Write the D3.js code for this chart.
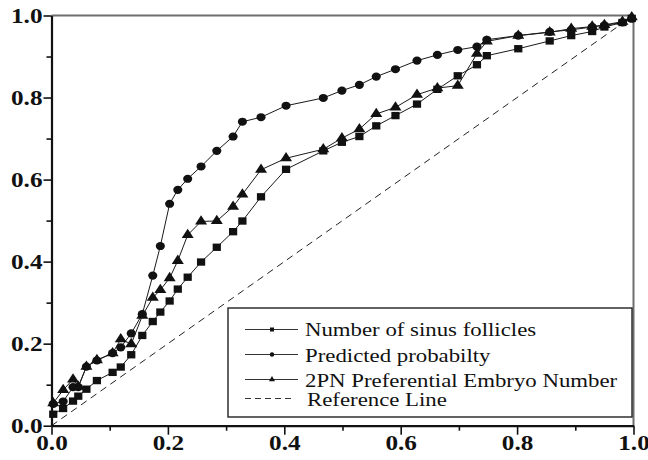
<!DOCTYPE html>
<html>
<head>
<meta charset="utf-8">
<script src="https://cdn.jsdelivr.net/npm/d3@7"></script>
<style>
  body { margin: 0; background: #fff; }
  #chart { width: 648px; height: 460px; }
  text { font-family: "Liberation Serif", "Times New Roman", Times, serif; }
</style>
</head>
<body>
<div id="chart"></div>
<script>
// values (false positive rate shared by all three curves)
const fpr = [0.003, 0.020, 0.037, 0.046, 0.060, 0.078, 0.105, 0.119, 0.137, 0.156,
  0.174, 0.187, 0.203, 0.217, 0.234, 0.257, 0.284, 0.312, 0.328, 0.360,
  0.403, 0.467, 0.499, 0.529, 0.558, 0.591, 0.628, 0.663, 0.698, 0.731,
  0.748, 0.802, 0.856, 0.893, 0.929, 0.950, 0.981, 0.997];

const sinusFollicles = [0.028, 0.042, 0.060, 0.072, 0.089, 0.110, 0.130, 0.143, 0.173, 0.220,
  0.254, 0.277, 0.304, 0.333, 0.362, 0.399, 0.435, 0.473, 0.499, 0.558,
  0.625, 0.670, 0.691, 0.705, 0.731, 0.756, 0.784, 0.820, 0.853, 0.880,
  0.902, 0.919, 0.938, 0.951, 0.961, 0.972, 0.983, 0.993];

const predictedProb = [0.053, 0.059, 0.094, 0.094, 0.144, 0.159, 0.177, 0.191, 0.225, 0.272,
  0.366, 0.438, 0.541, 0.575, 0.602, 0.632, 0.670, 0.705, 0.741, 0.752,
  0.780, 0.799, 0.817, 0.831, 0.851, 0.869, 0.890, 0.904, 0.916, 0.924,
  0.941, 0.951, 0.960, 0.965, 0.972, 0.976, 0.983, 0.992];

const embryo2PN = [0.055, 0.087, 0.113, 0.095, 0.144, 0.160, 0.177, 0.211, 0.199, 0.268,
  0.312, 0.331, 0.360, 0.402, 0.465, 0.498, 0.499, 0.534, 0.564, 0.624,
  0.652, 0.674, 0.701, 0.723, 0.760, 0.776, 0.807, 0.823, 0.829, 0.907,
  0.937, 0.951, 0.959, 0.968, 0.973, 0.977, 0.985, 0.996];

const seriesNames = ["Number of sinus follicles", "Predicted probabilty",
  "2PN Preferential Embryo Number", "Reference Line"];
const majorTicks = [0, 0.2, 0.4, 0.6, 0.8, 1.0];
const minorTicks = [0.1, 0.3, 0.5, 0.7, 0.9];
const refLine = [0, 1];

// the original picture is stretched sideways, so text is widened by this factor
const stretch = 1.2;

let margin = { top: 15.5, right: 14.5, bottom: 34.3, left: 51.5 };
let width = 648 - margin.left - margin.right;
let height = 460 - margin.top - margin.bottom;

var svg = d3
  .select("#chart")
  .append("svg")
  .attr("width", 648)
  .attr("height", 460)
  .append("g")
  .attr("transform", "translate(" + margin.left + "," + margin.top + ")");

let x = d3.scaleLinear().domain([0, 1]).range([0, width]);
let y = d3.scaleLinear().domain([0, 1]).range([height, 0]);

function widen(sel) {
  sel.each(function() {
    let len = this.getComputedTextLength();
    d3.select(this)
      .attr("textLength", len * stretch)
      .attr("lengthAdjust", "spacingAndGlyphs");
  });
}

// frame: gray top and right edges
svg.append("line")
  .attr("x1", 0).attr("x2", width).attr("y1", 0).attr("y2", 0)
  .attr("stroke", "#6e6e6e").attr("stroke-width", 2);
svg.append("line")
  .attr("x1", width).attr("x2", width).attr("y1", 0).attr("y2", height)
  .attr("stroke", "#6e6e6e").attr("stroke-width", 2);

function drawAxes() {
  // minor ticks first
  svg.append("g")
    .attr("transform", "translate(0," + height + ")")
    .call(d3.axisBottom(x).tickValues(minorTicks).tickSize(5).tickFormat(""))
    .call(g => g.select(".domain").remove());
  svg.append("g")
    .call(d3.axisLeft(y).tickValues(minorTicks).tickSize(5).tickFormat(""))
    .call(g => g.select(".domain").remove());

  let xAxis = svg.append("g")
    .attr("transform", "translate(0," + height + ")")
    .call(d3.axisBottom(x).tickValues(majorTicks).tickSize(9).tickPadding(0).tickSizeOuter(0)
      .tickFormat(d3.format(".1f")));
  let yAxis = svg.append("g")
    .call(d3.axisLeft(y).tickValues(majorTicks).tickSize(8).tickPadding(1).tickSizeOuter(0)
      .tickFormat(d3.format(".1f")));

  [xAxis, yAxis].forEach(function(a) {
    a.select(".domain").attr("stroke", "#111").attr("stroke-width", 2.2);
    a.selectAll("text")
      .attr("font-family", "Liberation Serif, Times New Roman, serif")
      .attr("font-size", 21)
      .attr("font-weight", "bold")
      .attr("fill", "#111")
      .call(widen);
  });
  svg.selectAll(".tick line").attr("stroke", "#111").attr("stroke-width", 1.6);
}

function drawReference() {
  svg.append("path")
    .attr("d", d3.line().x(d => x(d)).y(d => y(d))(refLine))
    .attr("fill", "none")
    .attr("stroke", "#222")
    .attr("stroke-width", 1)
    .attr("stroke-dasharray", "7,5");
}

const series = [
  { name: seriesNames[0], values: sinusFollicles, symbol: d3.symbolSquare, size: 54 },
  { name: seriesNames[1], values: predictedProb, symbol: d3.symbolCircle, size: 52 },
  { name: seriesNames[2], values: embryo2PN, symbol: d3.symbolTriangle, size: 50 }
];

function drawSeries(s) {
  let pts = fpr.map((f, i) => [f, s.values[i]]);
  svg.append("path")
    .attr("d", d3.line().x(d => x(d[0])).y(d => y(d[1]))(pts))
    .attr("fill", "none")
    .attr("stroke", "#1a1a1a")
    .attr("stroke-width", 1);

  svg.selectAll(null)
    .data(pts)
    .enter()
    .append("path")
    .attr("d", d3.symbol().type(s.symbol).size(s.size))
    .attr("fill", "#111")
    .attr("transform", d => "translate(" + x(d[0]) + "," + y(d[1]) + ") scale(1.12,1)");
}

function drawLegend() {
  let lx = 228 - margin.left, ly = 308 - margin.top;
  let legend = svg.append("g").attr("transform", "translate(" + lx + "," + ly + ")");
  legend.append("rect")
    .attr("width", 404).attr("height", 109)
    .attr("fill", "#fff").attr("stroke", "#222").attr("stroke-width", 1.4);

  let rowLine = [21.5, 46.5, 71.5, 90.5];
  let rowText = [28, 53.5, 78.5, 98];
  seriesNames.forEach(function(name, i) {
    let dashed = i === 3;
    legend.append("line")
      .attr("x1", 17).attr("x2", dashed ? 64 : 70)
      .attr("y1", rowLine[i]).attr("y2", rowLine[i])
      .attr("stroke", "#333").attr("stroke-width", 1)
      .attr("stroke-dasharray", dashed ? "6,4" : null);
    if (!dashed) {
      legend.append("path")
        .attr("d", d3.symbol().type(series[i].symbol).size(16))
        .attr("fill", "#111")
        .attr("transform", "translate(44," + rowLine[i] + ")");
    }
    legend.append("text")
      .attr("x", dashed ? 79 : 77)
      .attr("y", rowText[i])
      .attr("font-family", "Liberation Serif, Times New Roman, serif")
      .attr("font-size", 19)
      .attr("fill", "#111")
      .text(name)
      .call(widen);
  });
}

drawReference();
series.forEach(drawSeries);
drawAxes();
drawLegend();
</script>
</body>
</html>
